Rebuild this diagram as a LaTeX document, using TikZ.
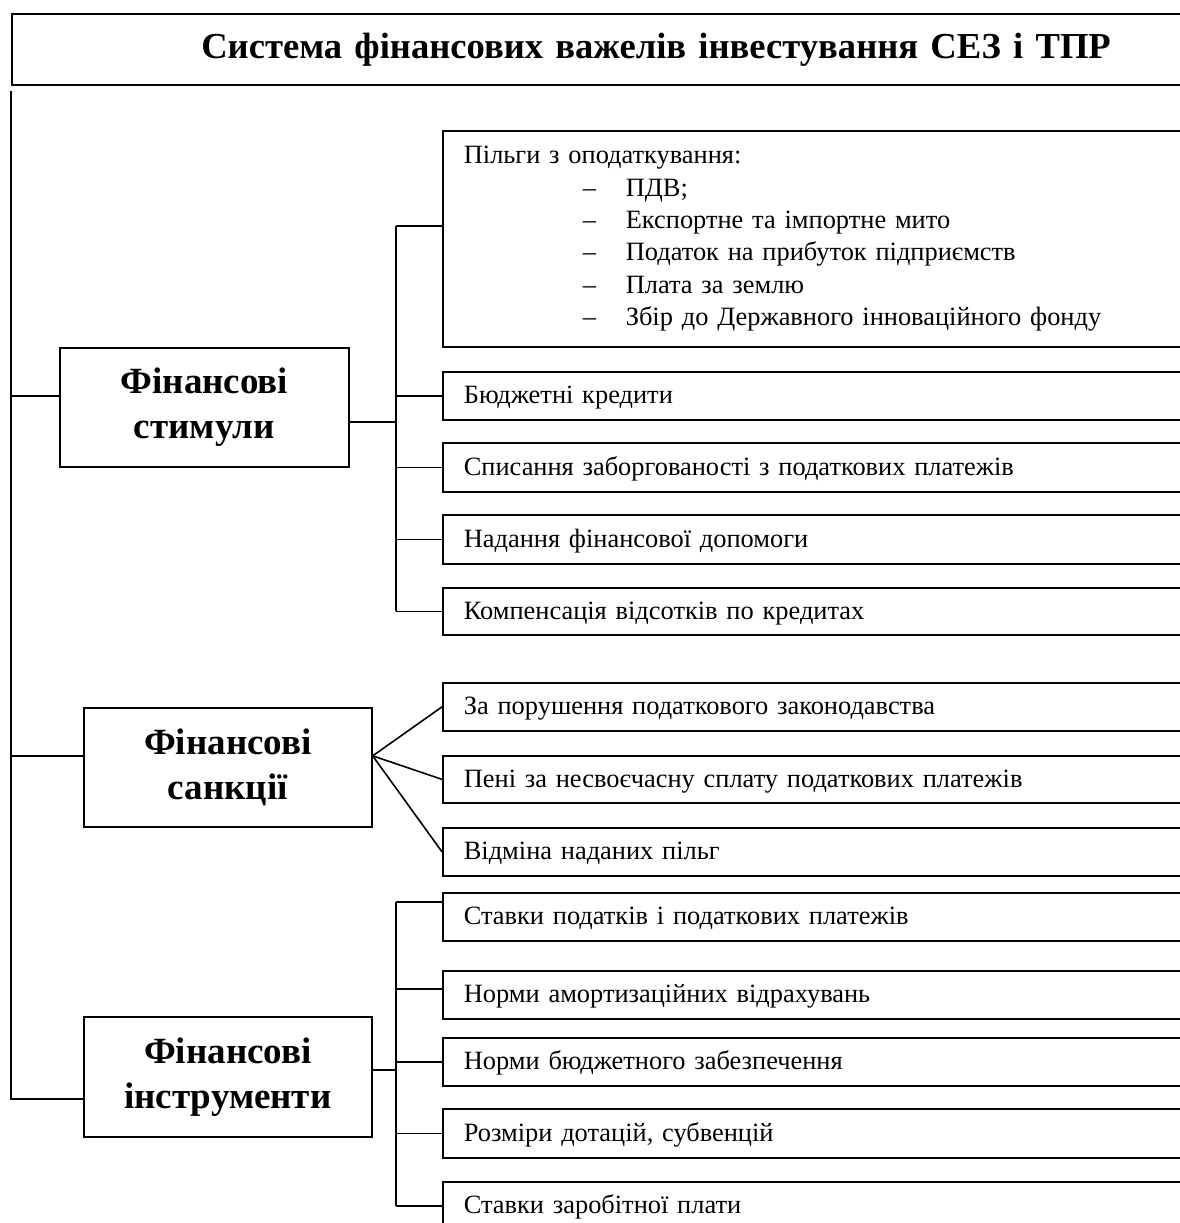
\documentclass[tikz,border=0pt]{standalone}
\usepackage{fontspec}
\setmainfont{Liberation Serif}
\usetikzlibrary{calc}
\begin{document}
\begin{tikzpicture}[x=1pt,y=-1pt,line width=1.7pt,
  leaf/.style={draw,anchor=north west,minimum width=758pt,minimum height=48pt,
    text width=716pt,inner xsep=21pt,inner ysep=0pt,align=left,
    text height=16pt,text depth=0pt,
    font=\fontsize{26.4}{32}\selectfont},
  group/.style={draw,anchor=north west,minimum width=289pt,minimum height=119pt,
    align=center,font=\fontsize{37}{45}\selectfont\bfseries},
  link/.style={line width=1.6pt}]
\useasboundingbox (0,0) rectangle (1180,1223);
\fill[white] (0,0) rectangle (1180,1223);
\clip (0,0) rectangle (1180,1223);

% title
\node[draw,anchor=north west,minimum width=1189pt,minimum height=71pt,
  text width=1009pt,inner xsep=90pt,align=right,
  font=\fontsize{36.6}{40}\selectfont\bfseries] (title) at (11,13)
  {\raisebox{-2pt}{Система фінансових важелів інвестування СЕЗ і ТПР}};

% three groups
\node[group] (stim)  at (59,347)  {Фінансові\\стимули};
\node[group,minimum width=288pt] (sanc)  at (83,707)  {Фінансові\\санкції};
\node[group,minimum width=288pt,minimum height=120pt] (instr) at (83,1016) {Фінансові\\інструменти};

% financial incentives
\node[leaf,minimum height=216pt,text height=,text depth=,
  font=\fontsize{26.4}{32.4}\selectfont] (p1) at (442,130)
  {Пільги з оподаткування:\\
   \hspace*{119pt}\makebox[43pt][l]{–}ПДВ;\\
   \hspace*{119pt}\makebox[43pt][l]{–}Експортне та імпортне мито\\
   \hspace*{119pt}\makebox[43pt][l]{–}Податок на прибуток підприємств\\
   \hspace*{119pt}\makebox[43pt][l]{–}Плата за землю\\
   \hspace*{119pt}\makebox[43pt][l]{–}Збір до Державного інноваційного фонду};
\node[leaf] (p2) at (442,371) {Бюджетні кредити};
\node[leaf,minimum height=49pt] (p3) at (442,442) {Списання заборгованості з податкових платежів};
\node[leaf,minimum height=49pt] (p4) at (442,514) {Надання фінансової допомоги};
\node[leaf,minimum height=47pt] (p5) at (442,587) {Компенсація відсотків по кредитах};

% financial sanctions
\node[leaf] (c1) at (442,682) {За порушення податкового законодавства};
\node[leaf,minimum height=47pt] (c2) at (442,755) {Пені за несвоєчасну сплату податкових платежів};
\node[leaf] (c3) at (442,827) {Відміна наданих пільг};

% financial instruments
\node[leaf] (i1) at (442,892) {Ставки податків і податкових платежів};
\node[leaf] (i2) at (442,970) {Норми амортизаційних відрахувань};
\node[leaf] (i3) at (442,1037) {Норми бюджетного забезпечення};
\node[leaf,minimum height=49pt] (i4) at (442,1108) {Розміри дотацій, субвенцій};
\node[leaf] (i5) at (442,1181) {Ставки заробітної плати};

% main spine on the left
\coordinate (spineTop) at (11,91);
\coordinate (spineBot) at (11,1099);
\coordinate (stimIn) at ([yshift=11.5pt]stim.west);
\coordinate (sancIn) at ([yshift=11.5pt]sanc.west);
\draw[link] (spineTop) -- (spineBot) -- (instr.west |- spineBot);
\draw[link] (stimIn -| spineTop) -- (stimIn);
\draw[link] (sancIn -| spineTop) -- (sancIn);

% incentives bracket
\coordinate (busS) at (396,0);
\coordinate (stimOut) at ([yshift=-14.5pt]stim.east);
\coordinate (p1In) at ([yshift=13pt]p1.west);
\draw[link] (stimOut) -- (stimOut -| busS);
\draw[link] (busS |- p1In) -- (busS |- p5.west);
\foreach \t in {p1In,p2.west,p3.west,p4.west,p5.west}
  \draw[link] (busS |- \t) -- (\t);

% sanctions fan
\coordinate (sancOut) at ([yshift=11.5pt]sanc.east);
\foreach \t in {c1,c2,c3}
  \draw[link] (sancOut) -- (\t.west);

% instruments bracket
\coordinate (busI) at (396,0);
\coordinate (instrOut) at ([yshift=7pt]instr.east);
\coordinate (i1In) at ([yshift=15pt]i1.west);
\coordinate (i2In) at ([yshift=6pt]i2.west);
\draw[link] (instrOut) -- (instrOut -| busI);
\draw[link] (busI |- i1In) -- (busI |- i5.west);
\foreach \t in {i1In,i2In,i3.west,i4.west,i5.west}
  \draw[link] (busI |- \t) -- (\t);
\end{tikzpicture}
\end{document}
